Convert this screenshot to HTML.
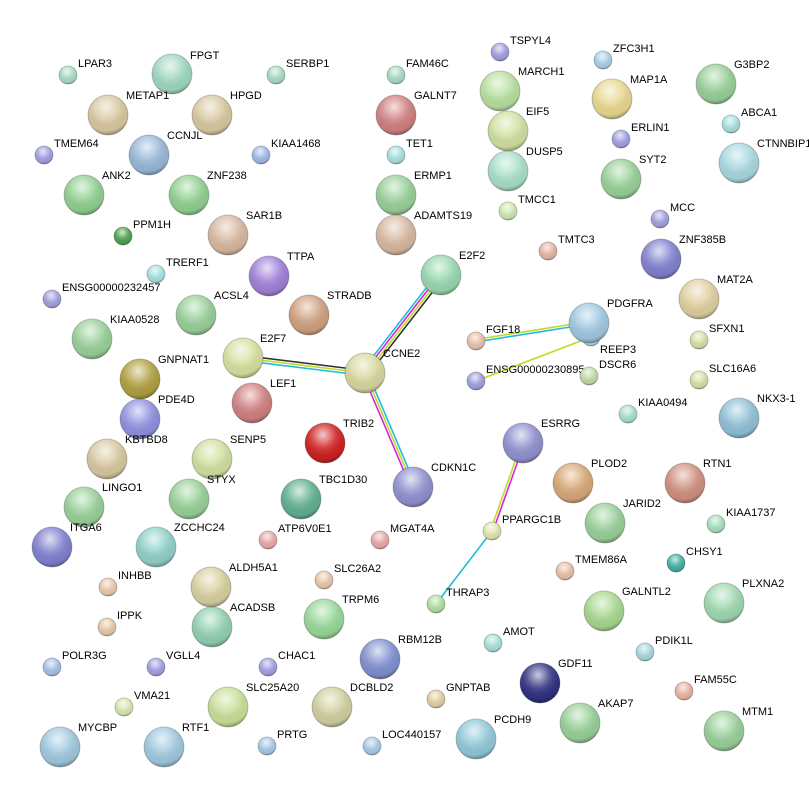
<!DOCTYPE html>
<html><head><meta charset="utf-8"><style>
html,body{margin:0;padding:0;background:#fff;}
svg{display:block;}
text{font-family:"Liberation Sans",sans-serif;font-size:11px;fill:#000;}
circle:not([fill^="url"]){stroke:rgba(0,0,0,0.22);stroke-width:1;}
</style></head><body>
<svg width="809" height="793" viewBox="0 0 809 793" xmlns="http://www.w3.org/2000/svg">
<defs>
<radialGradient id="hl" cx="0.45" cy="0.3" r="0.7">
<stop offset="0" stop-color="#fff" stop-opacity="0.75"/>
<stop offset="0.45" stop-color="#fff" stop-opacity="0.15"/>
<stop offset="0.85" stop-color="#000" stop-opacity="0.05"/>
<stop offset="1" stop-color="#000" stop-opacity="0.3"/>
</radialGradient>
</defs>
<g stroke-width="1.6" fill="none">
<line x1="438" y1="272.7" x2="362" y2="370.7" stroke="#22bbdd"/>
<line x1="440" y1="274.2" x2="364" y2="372.2" stroke="#dd22dd"/>
<line x1="442" y1="275.8" x2="366" y2="373.8" stroke="#bbdd22"/>
<line x1="444" y1="277.3" x2="368" y2="375.3" stroke="#333"/>
<line x1="243.3" y1="355.5" x2="365.3" y2="370.5" stroke="#333"/>
<line x1="243" y1="358" x2="365" y2="373" stroke="#bbdd22"/>
<line x1="242.7" y1="360.5" x2="364.7" y2="375.5" stroke="#22bbdd"/>
<line x1="362.7" y1="374" x2="410.7" y2="487" stroke="#dd22dd"/>
<line x1="365" y1="373" x2="413" y2="486" stroke="#bbdd22"/>
<line x1="367.3" y1="372" x2="415.3" y2="485" stroke="#22bbdd"/>
<line x1="476" y1="339.5" x2="589" y2="321.5" stroke="#bbdd22"/>
<line x1="476" y1="342" x2="589" y2="324" stroke="#22bbdd"/>
<line x1="476" y1="381" x2="591" y2="337" stroke="#bbdd22"/>
<line x1="521.8" y1="442.6" x2="490.8" y2="529.6" stroke="#bbdd22"/>
<line x1="524.2" y1="443.4" x2="493.2" y2="530.4" stroke="#dd22dd"/>
<line x1="492" y1="531" x2="436" y2="604" stroke="#22bbdd"/>
</g>
<g>
<circle cx="68" cy="75" r="9" fill="#a8dcc4"/><circle cx="68" cy="75" r="9" fill="url(#hl)"/><text x="78" y="67">LPAR3</text>
<circle cx="276" cy="75" r="9" fill="#a8dcc4"/><circle cx="276" cy="75" r="9" fill="url(#hl)"/><text x="286" y="67">SERBP1</text>
<circle cx="396" cy="75" r="9" fill="#a8dcc4"/><circle cx="396" cy="75" r="9" fill="url(#hl)"/><text x="406" y="67">FAM46C</text>
<circle cx="500" cy="52" r="9" fill="#a0a0e0"/><circle cx="500" cy="52" r="9" fill="url(#hl)"/><text x="510" y="44">TSPYL4</text>
<circle cx="603" cy="60" r="9" fill="#a8d0e8"/><circle cx="603" cy="60" r="9" fill="url(#hl)"/><text x="613" y="52">ZFC3H1</text>
<circle cx="44" cy="155" r="9" fill="#a0a0e0"/><circle cx="44" cy="155" r="9" fill="url(#hl)"/><text x="54" y="147">TMEM64</text>
<circle cx="261" cy="155" r="9" fill="#a0b8e8"/><circle cx="261" cy="155" r="9" fill="url(#hl)"/><text x="271" y="147">KIAA1468</text>
<circle cx="396" cy="155" r="9" fill="#a8e0e0"/><circle cx="396" cy="155" r="9" fill="url(#hl)"/><text x="406" y="147">TET1</text>
<circle cx="621" cy="139" r="9" fill="#a0a0e0"/><circle cx="621" cy="139" r="9" fill="url(#hl)"/><text x="631" y="131">ERLIN1</text>
<circle cx="731" cy="124" r="9" fill="#a8e0e0"/><circle cx="731" cy="124" r="9" fill="url(#hl)"/><text x="741" y="116">ABCA1</text>
<circle cx="123" cy="236" r="9" fill="#50a050"/><circle cx="123" cy="236" r="9" fill="url(#hl)"/><text x="133" y="228">PPM1H</text>
<circle cx="508" cy="211" r="9" fill="#d0e8b0"/><circle cx="508" cy="211" r="9" fill="url(#hl)"/><text x="518" y="203">TMCC1</text>
<circle cx="660" cy="219" r="9" fill="#a0a0e0"/><circle cx="660" cy="219" r="9" fill="url(#hl)"/><text x="670" y="211">MCC</text>
<circle cx="548" cy="251" r="9" fill="#e8b4a4"/><circle cx="548" cy="251" r="9" fill="url(#hl)"/><text x="558" y="243">TMTC3</text>
<circle cx="156" cy="274" r="9" fill="#a8e0e0"/><circle cx="156" cy="274" r="9" fill="url(#hl)"/><text x="166" y="266">TRERF1</text>
<circle cx="52" cy="299" r="9" fill="#a0a0e0"/><circle cx="52" cy="299" r="9" fill="url(#hl)"/><text x="62" y="291">ENSG00000232457</text>
<circle cx="476" cy="341" r="9" fill="#e8c0a8"/><circle cx="476" cy="341" r="9" fill="url(#hl)"/><text x="486" y="333">FGF18</text>
<circle cx="591" cy="337" r="9" fill="#a8e0e0"/><circle cx="591" cy="337" r="9" fill="url(#hl)"/><text x="600" y="353">REEP3</text>
<circle cx="699" cy="340" r="9" fill="#d8e0a8"/><circle cx="699" cy="340" r="9" fill="url(#hl)"/><text x="709" y="332">SFXN1</text>
<circle cx="476" cy="381" r="9" fill="#a0a0e0"/><circle cx="476" cy="381" r="9" fill="url(#hl)"/><text x="486" y="373">ENSG00000230895</text>
<circle cx="699" cy="380" r="9" fill="#d8e0a8"/><circle cx="699" cy="380" r="9" fill="url(#hl)"/><text x="709" y="372">SLC16A6</text>
<circle cx="589" cy="376" r="9" fill="#c0dca8"/><circle cx="589" cy="376" r="9" fill="url(#hl)"/><text x="599" y="368">DSCR6</text>
<circle cx="628" cy="414" r="9" fill="#a8e0c8"/><circle cx="628" cy="414" r="9" fill="url(#hl)"/><text x="638" y="406">KIAA0494</text>
<circle cx="492" cy="531" r="9" fill="#e4e4b0"/><circle cx="492" cy="531" r="9" fill="url(#hl)"/><text x="502" y="523">PPARGC1B</text>
<circle cx="716" cy="524" r="9" fill="#a8e0c0"/><circle cx="716" cy="524" r="9" fill="url(#hl)"/><text x="726" y="516">KIAA1737</text>
<circle cx="268" cy="540" r="9" fill="#e8a8a8"/><circle cx="268" cy="540" r="9" fill="url(#hl)"/><text x="278" y="532">ATP6V0E1</text>
<circle cx="380" cy="540" r="9" fill="#e8a8a8"/><circle cx="380" cy="540" r="9" fill="url(#hl)"/><text x="390" y="532">MGAT4A</text>
<circle cx="676" cy="563" r="9" fill="#40b0a0"/><circle cx="676" cy="563" r="9" fill="url(#hl)"/><text x="686" y="555">CHSY1</text>
<circle cx="565" cy="571" r="9" fill="#e8c0a8"/><circle cx="565" cy="571" r="9" fill="url(#hl)"/><text x="575" y="563">TMEM86A</text>
<circle cx="108" cy="587" r="9" fill="#e8c8a8"/><circle cx="108" cy="587" r="9" fill="url(#hl)"/><text x="118" y="579">INHBB</text>
<circle cx="324" cy="580" r="9" fill="#e8c8a8"/><circle cx="324" cy="580" r="9" fill="url(#hl)"/><text x="334" y="572">SLC26A2</text>
<circle cx="436" cy="604" r="9" fill="#b0e0a0"/><circle cx="436" cy="604" r="9" fill="url(#hl)"/><text x="446" y="596">THRAP3</text>
<circle cx="107" cy="627" r="9" fill="#e8c8a8"/><circle cx="107" cy="627" r="9" fill="url(#hl)"/><text x="117" y="619">IPPK</text>
<circle cx="493" cy="643" r="9" fill="#a8e0d8"/><circle cx="493" cy="643" r="9" fill="url(#hl)"/><text x="503" y="635">AMOT</text>
<circle cx="645" cy="652" r="9" fill="#a8d8e0"/><circle cx="645" cy="652" r="9" fill="url(#hl)"/><text x="655" y="644">PDIK1L</text>
<circle cx="52" cy="667" r="9" fill="#a8c0e8"/><circle cx="52" cy="667" r="9" fill="url(#hl)"/><text x="62" y="659">POLR3G</text>
<circle cx="156" cy="667" r="9" fill="#a0a0e0"/><circle cx="156" cy="667" r="9" fill="url(#hl)"/><text x="166" y="659">VGLL4</text>
<circle cx="268" cy="667" r="9" fill="#a0a0e0"/><circle cx="268" cy="667" r="9" fill="url(#hl)"/><text x="278" y="659">CHAC1</text>
<circle cx="684" cy="691" r="9" fill="#e8b4a4"/><circle cx="684" cy="691" r="9" fill="url(#hl)"/><text x="694" y="683">FAM55C</text>
<circle cx="436" cy="699" r="9" fill="#e0d0a0"/><circle cx="436" cy="699" r="9" fill="url(#hl)"/><text x="446" y="691">GNPTAB</text>
<circle cx="124" cy="707" r="9" fill="#d8e8b0"/><circle cx="124" cy="707" r="9" fill="url(#hl)"/><text x="134" y="699">VMA21</text>
<circle cx="267" cy="746" r="9" fill="#a8c8e8"/><circle cx="267" cy="746" r="9" fill="url(#hl)"/><text x="277" y="738">PRTG</text>
<circle cx="372" cy="746" r="9" fill="#a8c8e8"/><circle cx="372" cy="746" r="9" fill="url(#hl)"/><text x="382" y="738">LOC440157</text>

<circle cx="172" cy="74" r="20" fill="#a0d8c0"/><circle cx="172" cy="74" r="20" fill="url(#hl)"/><text x="190" y="59">FPGT</text>
<circle cx="108" cy="115" r="20" fill="#d8c8a0"/><circle cx="108" cy="115" r="20" fill="url(#hl)"/><text x="126" y="99">METAP1</text>
<circle cx="212" cy="115" r="20" fill="#d8c8a0"/><circle cx="212" cy="115" r="20" fill="url(#hl)"/><text x="230" y="99">HPGD</text>
<circle cx="149" cy="155" r="20" fill="#98b8d8"/><circle cx="149" cy="155" r="20" fill="url(#hl)"/><text x="167" y="139">CCNJL</text>
<circle cx="84" cy="195" r="20" fill="#90d090"/><circle cx="84" cy="195" r="20" fill="url(#hl)"/><text x="102" y="179">ANK2</text>
<circle cx="189" cy="195" r="20" fill="#90d090"/><circle cx="189" cy="195" r="20" fill="url(#hl)"/><text x="207" y="179">ZNF238</text>
<circle cx="228" cy="235" r="20" fill="#d8b8a0"/><circle cx="228" cy="235" r="20" fill="url(#hl)"/><text x="246" y="219">SAR1B</text>
<circle cx="396" cy="115" r="20" fill="#d08080"/><circle cx="396" cy="115" r="20" fill="url(#hl)"/><text x="414" y="99">GALNT7</text>
<circle cx="500" cy="91" r="20" fill="#b8e0a0"/><circle cx="500" cy="91" r="20" fill="url(#hl)"/><text x="518" y="75">MARCH1</text>
<circle cx="508" cy="131" r="20" fill="#d0e0a0"/><circle cx="508" cy="131" r="20" fill="url(#hl)"/><text x="526" y="115">EIF5</text>
<circle cx="508" cy="171" r="20" fill="#a8e0c8"/><circle cx="508" cy="171" r="20" fill="url(#hl)"/><text x="526" y="155">DUSP5</text>
<circle cx="612" cy="99" r="20" fill="#e8d890"/><circle cx="612" cy="99" r="20" fill="url(#hl)"/><text x="630" y="83">MAP1A</text>
<circle cx="716" cy="84" r="20" fill="#98d098"/><circle cx="716" cy="84" r="20" fill="url(#hl)"/><text x="734" y="68">G3BP2</text>
<circle cx="739" cy="163" r="20" fill="#a8d8e0"/><circle cx="739" cy="163" r="20" fill="url(#hl)"/><text x="757" y="147">CTNNBIP1</text>
<circle cx="621" cy="179" r="20" fill="#98d098"/><circle cx="621" cy="179" r="20" fill="url(#hl)"/><text x="639" y="163">SYT2</text>
<circle cx="396" cy="195" r="20" fill="#98d098"/><circle cx="396" cy="195" r="20" fill="url(#hl)"/><text x="414" y="179">ERMP1</text>
<circle cx="396" cy="235" r="20" fill="#d8b8a0"/><circle cx="396" cy="235" r="20" fill="url(#hl)"/><text x="414" y="219">ADAMTS19</text>
<circle cx="441" cy="275" r="20" fill="#98d8b0"/><circle cx="441" cy="275" r="20" fill="url(#hl)"/><text x="459" y="259">E2F2</text>
<circle cx="661" cy="259" r="20" fill="#8080d0"/><circle cx="661" cy="259" r="20" fill="url(#hl)"/><text x="679" y="243">ZNF385B</text>
<circle cx="269" cy="276" r="20" fill="#a080d8"/><circle cx="269" cy="276" r="20" fill="url(#hl)"/><text x="287" y="260">TTPA</text>
<circle cx="196" cy="315" r="20" fill="#98d098"/><circle cx="196" cy="315" r="20" fill="url(#hl)"/><text x="214" y="299">ACSL4</text>
<circle cx="309" cy="315" r="20" fill="#d0a080"/><circle cx="309" cy="315" r="20" fill="url(#hl)"/><text x="327" y="299">STRADB</text>
<circle cx="92" cy="339" r="20" fill="#98d098"/><circle cx="92" cy="339" r="20" fill="url(#hl)"/><text x="110" y="323">KIAA0528</text>
<circle cx="699" cy="299" r="20" fill="#e0d0a0"/><circle cx="699" cy="299" r="20" fill="url(#hl)"/><text x="717" y="283">MAT2A</text>
<circle cx="589" cy="323" r="20" fill="#a0c8e0"/><circle cx="589" cy="323" r="20" fill="url(#hl)"/><text x="607" y="307">PDGFRA</text>
<circle cx="243" cy="358" r="20" fill="#d8e0a0"/><circle cx="243" cy="358" r="20" fill="url(#hl)"/><text x="260" y="342">E2F7</text>
<circle cx="365" cy="373" r="20" fill="#d8d8a0"/><circle cx="365" cy="373" r="20" fill="url(#hl)"/><text x="383" y="357">CCNE2</text>
<circle cx="140" cy="379" r="20" fill="#b0a040"/><circle cx="140" cy="379" r="20" fill="url(#hl)"/><text x="158" y="363">GNPNAT1</text>
<circle cx="252" cy="403" r="20" fill="#d08080"/><circle cx="252" cy="403" r="20" fill="url(#hl)"/><text x="270" y="387">LEF1</text>
<circle cx="140" cy="419" r="20" fill="#9090e0"/><circle cx="140" cy="419" r="20" fill="url(#hl)"/><text x="158" y="403">PDE4D</text>
<circle cx="325" cy="443" r="20" fill="#d02020"/><circle cx="325" cy="443" r="20" fill="url(#hl)"/><text x="343" y="427">TRIB2</text>
<circle cx="523" cy="443" r="20" fill="#9090d0"/><circle cx="523" cy="443" r="20" fill="url(#hl)"/><text x="541" y="427">ESRRG</text>
<circle cx="107" cy="459" r="20" fill="#d8c8a0"/><circle cx="107" cy="459" r="20" fill="url(#hl)"/><text x="125" y="443">KBTBD8</text>
<circle cx="212" cy="459" r="20" fill="#d0e0a0"/><circle cx="212" cy="459" r="20" fill="url(#hl)"/><text x="230" y="443">SENP5</text>
<circle cx="413" cy="487" r="20" fill="#9090d0"/><circle cx="413" cy="487" r="20" fill="url(#hl)"/><text x="431" y="471">CDKN1C</text>
<circle cx="573" cy="483" r="20" fill="#d8a878"/><circle cx="573" cy="483" r="20" fill="url(#hl)"/><text x="591" y="467">PLOD2</text>
<circle cx="685" cy="483" r="20" fill="#d09080"/><circle cx="685" cy="483" r="20" fill="url(#hl)"/><text x="703" y="467">RTN1</text>
<circle cx="739" cy="418" r="20" fill="#90c0d8"/><circle cx="739" cy="418" r="20" fill="url(#hl)"/><text x="757" y="402">NKX3-1</text>
<circle cx="84" cy="507" r="20" fill="#98d098"/><circle cx="84" cy="507" r="20" fill="url(#hl)"/><text x="102" y="491">LINGO1</text>
<circle cx="189" cy="499" r="20" fill="#98d098"/><circle cx="189" cy="499" r="20" fill="url(#hl)"/><text x="207" y="483">STYX</text>
<circle cx="301" cy="499" r="20" fill="#60b090"/><circle cx="301" cy="499" r="20" fill="url(#hl)"/><text x="319" y="483">TBC1D30</text>
<circle cx="605" cy="523" r="20" fill="#98d098"/><circle cx="605" cy="523" r="20" fill="url(#hl)"/><text x="623" y="507">JARID2</text>
<circle cx="52" cy="547" r="20" fill="#8080d0"/><circle cx="52" cy="547" r="20" fill="url(#hl)"/><text x="70" y="531">ITGA6</text>
<circle cx="156" cy="547" r="20" fill="#90d0c8"/><circle cx="156" cy="547" r="20" fill="url(#hl)"/><text x="174" y="531">ZCCHC24</text>
<circle cx="211" cy="587" r="20" fill="#d8d0a0"/><circle cx="211" cy="587" r="20" fill="url(#hl)"/><text x="229" y="571">ALDH5A1</text>
<circle cx="604" cy="611" r="20" fill="#a8d890"/><circle cx="604" cy="611" r="20" fill="url(#hl)"/><text x="622" y="595">GALNTL2</text>
<circle cx="724" cy="603" r="20" fill="#a0d8b0"/><circle cx="724" cy="603" r="20" fill="url(#hl)"/><text x="742" y="587">PLXNA2</text>
<circle cx="212" cy="627" r="20" fill="#90d0b0"/><circle cx="212" cy="627" r="20" fill="url(#hl)"/><text x="230" y="611">ACADSB</text>
<circle cx="324" cy="619" r="20" fill="#98d898"/><circle cx="324" cy="619" r="20" fill="url(#hl)"/><text x="342" y="603">TRPM6</text>
<circle cx="380" cy="659" r="20" fill="#8090d0"/><circle cx="380" cy="659" r="20" fill="url(#hl)"/><text x="398" y="643">RBM12B</text>
<circle cx="540" cy="683" r="20" fill="#303080"/><circle cx="540" cy="683" r="20" fill="url(#hl)"/><text x="558" y="667">GDF11</text>
<circle cx="228" cy="707" r="20" fill="#c8e098"/><circle cx="228" cy="707" r="20" fill="url(#hl)"/><text x="246" y="691">SLC25A20</text>
<circle cx="332" cy="707" r="20" fill="#d0d0a0"/><circle cx="332" cy="707" r="20" fill="url(#hl)"/><text x="350" y="691">DCBLD2</text>
<circle cx="580" cy="723" r="20" fill="#98d098"/><circle cx="580" cy="723" r="20" fill="url(#hl)"/><text x="598" y="707">AKAP7</text>
<circle cx="724" cy="731" r="20" fill="#98d098"/><circle cx="724" cy="731" r="20" fill="url(#hl)"/><text x="742" y="715">MTM1</text>
<circle cx="60" cy="747" r="20" fill="#a0c8e0"/><circle cx="60" cy="747" r="20" fill="url(#hl)"/><text x="78" y="731">MYCBP</text>
<circle cx="164" cy="747" r="20" fill="#a0c8e0"/><circle cx="164" cy="747" r="20" fill="url(#hl)"/><text x="182" y="731">RTF1</text>
<circle cx="476" cy="739" r="20" fill="#90c8d8"/><circle cx="476" cy="739" r="20" fill="url(#hl)"/><text x="494" y="723">PCDH9</text>
</g>
</svg>
</body></html>
